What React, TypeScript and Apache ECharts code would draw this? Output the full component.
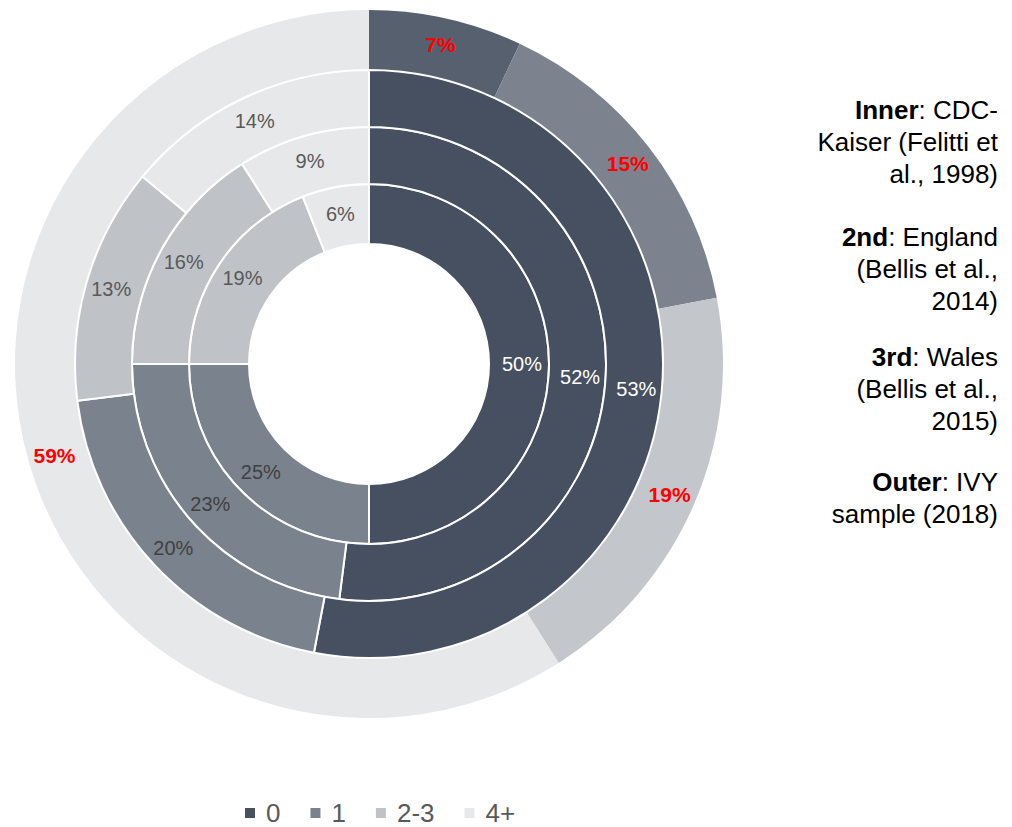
import React, { useEffect, useRef } from "react";
import * as echarts from "echarts";

const categories = ["0", "1", "2-3", "4+"];
const innerValues = [50, 25, 19, 6];
const secondValues = [52, 23, 16, 9];
const thirdValues = [53, 20, 13, 14];
const outerValues = [7, 15, 19, 59];

const ringColors = ["#465061", "#7a828e", "#bfc2c7", "#e7e8ea"];
const outerColors = ["#57606e", "#7c838f", "#c3c6cb", "#e7e8ea"];
const labelColors = ["#ffffff", "#404040", "#595959", "#595959"];

const notes = [
  { key: "Inner", rest: ": CDC-\nKaiser (Felitti et\nal., 1998)" },
  { key: "2nd", rest: ": England\n(Bellis et al.,\n2014)" },
  { key: "3rd", rest: ": Wales\n(Bellis et al.,\n2015)" },
  { key: "Outer", rest: ": IVY\nsample (2018)" },
];
const noteTops = [94, 221, 341, 466];

const FONT = "'Liberation Sans', Arial, sans-serif";

function ringData(values: number[], colors: string[], outer: boolean) {
  return values.map((v, i) => ({
    name: categories[i],
    value: v,
    itemStyle: { color: colors[i] },
    label: outer
      ? { color: "#ff0000", fontWeight: "bold" as const, fontSize: 21 }
      : { color: labelColors[i], fontSize: 20 },
  }));
}

export default function App() {
  const ref = useRef<HTMLDivElement>(null);
  useEffect(() => {
    document.body.style.margin = "0";
    const chart = echarts.init(ref.current!, null, { renderer: "svg" });
    const center = [369, 364];
    const base = {
      type: "pie" as const,
      center,
      startAngle: 90,
      clockwise: true,
      avoidLabelOverlap: false,
      silent: true,
      labelLine: { show: false },
      emphasis: { disabled: true },
    };
    const ringStyle = { borderColor: "#ffffff", borderWidth: 2 };
    chart.setOption({
      animation: false,
      backgroundColor: "#ffffff",
      textStyle: { fontFamily: FONT },
      legend: {
        data: categories,
        left: 243,
        top: 800,
        padding: 0,
        icon: "rect",
        itemWidth: 12,
        itemHeight: 12,
        itemGap: 28,
        textStyle: {
          fontSize: 26,
          lineHeight: 22,
          color: "#595959",
          fontFamily: FONT,
          padding: [0, 0, 0, 5],
        },
        selectedMode: false,
      },
      graphic: notes.map((n, i) => ({
        type: "text",
        x: 998,
        y: noteTops[i],
        style: {
          text: `{b|${n.key}}${n.rest}`,
          fontSize: 26,
          fontFamily: FONT,
          fill: "#000000",
          align: "right",
          verticalAlign: "top",
          lineHeight: 32,
          rich: {
            b: { fontWeight: "bold", fontSize: 26, fontFamily: FONT, fill: "#000000", lineHeight: 32 },
          },
        },
      })),
      series: [
        {
          ...base,
          name: "Inner",
          radius: [120, 180],
          itemStyle: ringStyle,
          label: { show: true, position: "inside", formatter: "{c}%", fontFamily: FONT },
          data: ringData(innerValues, ringColors, false),
        },
        {
          ...base,
          name: "2nd",
          radius: [180, 237],
          itemStyle: ringStyle,
          label: { show: true, position: "inside", formatter: "{c}%", fontFamily: FONT },
          data: ringData(secondValues, ringColors, false),
        },
        {
          ...base,
          name: "3rd",
          radius: [237, 294],
          itemStyle: ringStyle,
          label: { show: true, position: "inside", formatter: "{c}%", fontFamily: FONT },
          data: ringData(thirdValues, ringColors, false),
        },
        {
          ...base,
          name: "Outer",
          radius: [295, 354],
          itemStyle: { borderWidth: 0 },
          label: { show: true, position: "inside", formatter: "{c}%", fontFamily: FONT },
          data: ringData(outerValues, outerColors, true),
        },
      ],
    });
    return () => chart.dispose();
  }, []);
  return <div ref={ref} style={{ width: 1012, height: 827 }} />;
}
